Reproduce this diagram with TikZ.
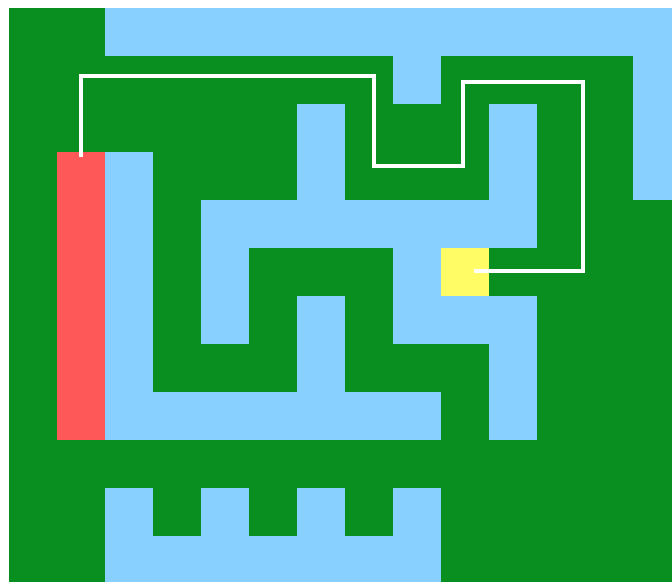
\documentclass[tikz,border=0pt]{standalone}
\definecolor{mazegreen}{RGB}{8,143,31}
\definecolor{mazeblue}{RGB}{136,208,255}
\definecolor{mazered}{RGB}{255,88,88}
\definecolor{mazeyellow}{RGB}{255,252,102}
\tikzset{
  water/.style={fill=mazeblue},
  pathline/.style={draw=white, line width=4pt, line join=miter}
}
\begin{document}
\begin{tikzpicture}[x=1pt,y=-1pt]
\useasboundingbox (0,0) rectangle (672,581);
\clip (0,0) rectangle (672,581);
\fill[white] (0,0) rectangle (672,581);
\fill[mazegreen] (9,8) rectangle (681,590);
% blue corridors
\fill[water] (105,8) rectangle (681,56);
\fill[water] (633,8) rectangle (681,200);
\fill[water] (393,56) rectangle (441,104);
\fill[water] (297,104) rectangle (345,200);
\fill[water] (489,104) rectangle (537,200);
\fill[water] (105,152) rectangle (153,440);
\fill[water] (201,200) rectangle (537,248);
\fill[water] (201,248) rectangle (249,344);
\fill[water] (393,248) rectangle (441,344);
\fill[water] (441,296) rectangle (537,344);
\fill[water] (297,296) rectangle (345,392);
\fill[water] (489,344) rectangle (537,440);
\fill[water] (105,392) rectangle (441,440);
\fill[water] (105,536) rectangle (441,590);
\foreach \cx in {105,201,297,393} {\fill[water] (\cx,488) rectangle ++(48,48);}
% start and goal
\fill[mazered] (57,152) rectangle (105,440);
\fill[mazeyellow] (441,248) rectangle (489,296);
% route
\coordinate (start) at (81,157);
\coordinate (goal) at (474,271);
\draw[pathline] (start) -- (81,76) -- (374,76) -- (374,166) -- (463,166) -- (463,82) -- (583,82) -- (583,271) -- (goal);
\end{tikzpicture}
\end{document}
